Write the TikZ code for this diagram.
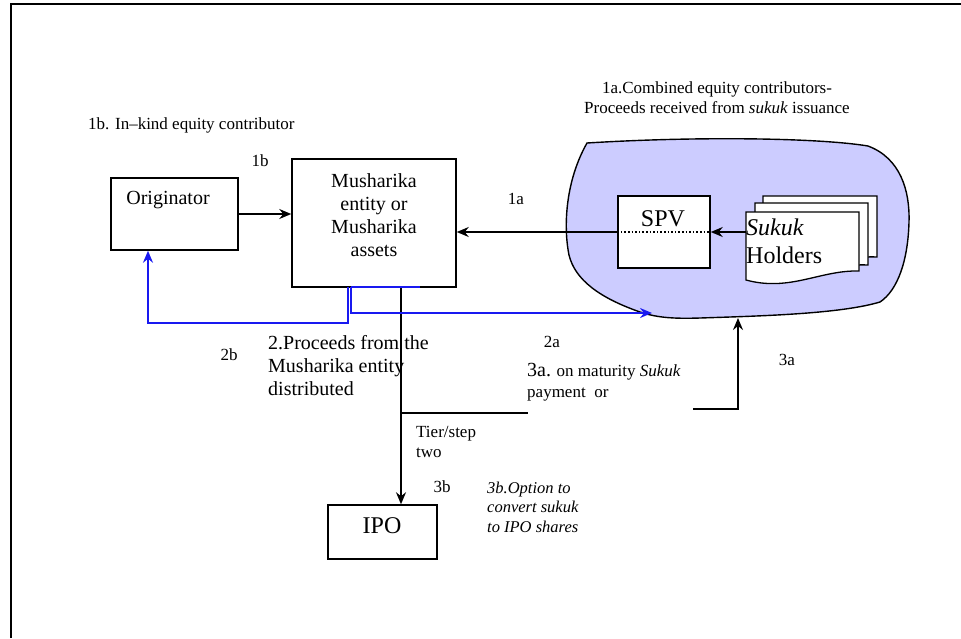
\documentclass[tikz,border=0pt]{standalone}
\usepackage{fontspec}
\setmainfont{Liberation Serif}
\usetikzlibrary{arrows.meta,calc}
\definecolor{cloudfill}{RGB}{204,204,255}
\definecolor{myblue}{RGB}{25,25,240}
\begin{document}
\begin{tikzpicture}[x=1pt,y=-1pt,
  box/.style={draw=black, line width=1.5pt, fill=white, inner sep=0pt},
  lbl/.style={inner sep=0pt, font=\fontsize{17}{20}\selectfont},
  bigtxt/.style={inner sep=0pt, font=\fontsize{20}{23}\selectfont},
  hugetxt/.style={inner sep=0pt, font=\fontsize{24}{28}\selectfont},
  conn/.style={draw=black, line width=1.8pt},
  bconn/.style={draw=myblue, line width=2.4pt},
  arr/.style={-{Stealth[length=12pt,width=10pt,inset=4pt]}},
  doc/.style={draw=black, line width=1.3pt, fill=white}
]
\useasboundingbox (0,0) rectangle (961,638);
% frame
\draw[line width=2pt] (11,638) -- (11,4) -- (961,4);

% cloud
\draw[fill=cloudfill, line width=1.4pt] (587,143) .. controls (700,136) and (820,138) .. (868,146)
  .. controls (900,158) and (910,190) .. (909,222)
  .. controls (908,260) and (898,290) .. (880,302)
  .. controls (840,314) and (760,316) .. (700,318)
  .. controls (670,319) and (655,317) .. (640,312)
  .. controls (600,298) and (575,280) .. (569,255)
  .. controls (563,225) and (566,180) .. (587,143) -- cycle;

% boxes
\node[box, minimum width=127pt, minimum height=72pt] (orig) at (174.5,214) {};
\node[bigtxt] (origt) at (168,200) {Originator};
\node[box, minimum width=164pt, minimum height=128pt] (mush) at (374,223) {};
\node[bigtxt, align=center] (musht) at (374,215) {Musharika\\entity or\\Musharika\\assets};
\node[box, minimum width=92pt, minimum height=72pt] (spv) at (664,232) {};
\node[hugetxt] (spvt) at (663,219) {SPV};
\node[box, minimum width=109pt, minimum height=54pt] (ipo) at (382.5,532) {};
\node[hugetxt] (ipot) at (382,526) {IPO};

% sukuk holders stack
\draw[doc] (763,196) -- (877,196) -- (877,257) .. controls (840,255) and (810,275) .. (763,265) -- cycle;
\draw[doc] (755,203) -- (868,203) -- (868,265) .. controls (830,263) and (800,283) .. (755,273) -- cycle;
\draw[doc] (746,212) -- (859,212) -- (859,271) .. controls (820,270) and (790,292) .. (746,280) -- cycle;
\node[hugetxt, anchor=west, align=left] (sukt) at (746,241) {\textit{Sukuk}\\Holders};
\coordinate (sukw) at (746,232);

% black connectors
\draw[conn, arr] (orig.east) -- (orig.east -| mush.west);
\draw[conn, arr] (sukw) -- (sukw -| spv.east);
\draw[conn, arr] (spv.west) -- (spv.west -| mush.east);
\draw[line width=1.6pt, dotted] (spv.west) -- (spv.east);

\coordinate (t1) at (401,287);
\draw[conn, arr] (t1) -- (t1 |- ipo.north);
\coordinate (t2) at (401,413);
\coordinate (t3) at (528,413);
\draw[conn] (t2) -- (t3);
\coordinate (p1) at (693,409);
\coordinate (p2) at (738,409);
\coordinate (cb) at (738,318);
\draw[conn, arr] (p1) -- (p2) -- (cb);

% blue connectors
\coordinate (b1) at (348,287);
\coordinate (b2) at (148,323);
\draw[bconn, arr] (b1) -- (b1 |- b2) -- (b2) -- (b2 |- orig.south);
\coordinate (b3) at (351,287);
\coordinate (cl) at (652,313);
\draw[bconn, arr] (b3) -- (b3 |- cl) -- (cl);
\coordinate (b4) at (420,287);
\draw[bconn] (b3) -- (b4);

% labels
\node[lbl, anchor=west] (l1b) at (88,125) {1b. In–kind equity contributor};
\node[lbl, align=center] (l1a) at (717,98) {1a.Combined equity contributors-\\Proceeds received from \textit{sukuk} issuance};
\node[lbl] (n1b) at (260,161) {1b};
\node[lbl] (n1a) at (516,199) {1a};
\node[lbl] (n2b) at (229,355) {2b};
\node[lbl] (n2a) at (552,342) {2a};
\node[bigtxt, anchor=west, align=left] (l2) at (268,366) {2.Proceeds from the\\Musharika entity\\distributed};
\node[lbl, anchor=west, align=left, font=\fontsize{17}{21}\selectfont] (l3a) at (527,382) {{\fontsize{20}{21}\selectfont 3a.} on maturity \textit{Sukuk}\\payment\ \ or};
\node[lbl, anchor=west, align=left] (ltier) at (416,442) {Tier/step\\two};
\node[lbl] (n3b) at (442,487) {3b};
\node[lbl, anchor=west, align=left, font=\fontsize{16.5}{19.5}\selectfont\itshape] (l3b) at (487,507) {3b.Option to\\convert sukuk\\to IPO shares};
\node[lbl] (n3a) at (787,360) {3a};
\end{tikzpicture}
\end{document}
